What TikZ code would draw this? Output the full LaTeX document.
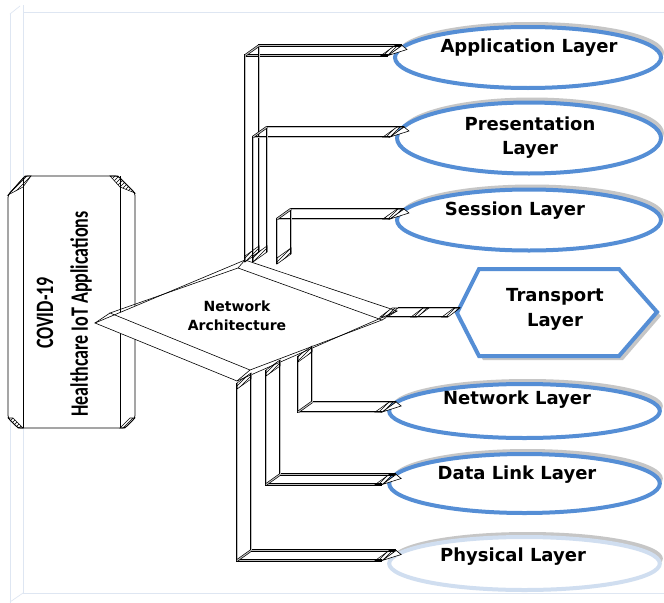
\documentclass[tikz,border=0pt]{standalone}
\usepackage{fontspec}
\setmainfont{DejaVu Sans}
\newfontfamily\carlito{Carlito}
\usetikzlibrary{shapes.geometric,calc,patterns,shadows}
\definecolor{lblue}{RGB}{85,142,213}
\definecolor{pblue}{RGB}{208,222,240}
\definecolor{framec}{RGB}{222,230,242}
\newcommand{\pipeto}[2]{%
  \draw[pipe] (#1) |- (#2);
  \draw[pipe] ($(#1)+(14,-10)$) |- ($(#2)+(14,-10)$);
  \draw[pipe] (#1 |- #2) -- ++(14,-10);
  \filldraw[capfill] ($(#2)+(-7,0)$) -- (#2) -- ++(14,-10) -- ++(-7,0) -- cycle;
  \draw[thinl, fill=white] (#2) -- ++(14,-10) -- ++(5,4) -- cycle;
}
\newcommand{\capup}[1]{\filldraw[capfill] (#1) -- ++(14,-10) -- ++(0,-6) -- ++(-14,10) -- cycle;}
\newcommand{\capdown}[1]{\filldraw[capfill] (#1) -- ++(14,-10) -- ++(0,6) -- ++(-14,10) -- cycle;}
\newcommand{\capside}[1]{\filldraw[capfill] ($(#1)+(-6,0)$) -- (#1) -- ++(12,-9) -- ++(-6,0) -- cycle;}
\begin{document}
\begin{tikzpicture}[x=0.75pt,y=-0.75pt,
  pipe/.style={draw=black, line width=0.5pt, double=gray!50, double distance=0.75pt},
  thinl/.style={draw=black, line width=0.45pt},
  capfill/.style={draw=black, line width=0.4pt, pattern=north east lines},
  boxline/.style={draw=black, line width=0.55pt},
  frameline/.style={draw=framec, line width=0.5pt},
  layer/.style={ellipse, draw=lblue, line width=3pt, fill=white, inner sep=0pt},
  shadowE/.style={general shadow={fill=gray!45, shadow xshift=2.25pt, shadow yshift=3.75pt}},
  lbl/.style={font=\fontsize{13.5}{17.5}\selectfont\bfseries, align=center, inner sep=0pt},
  side/.style={font=\carlito\fontsize{18.75}{20}\selectfont\bfseries, rotate=90, inner sep=0pt}]
\useasboundingbox (0,0) rectangle (664,603);
\fill[white] (0,0) rectangle (664,603);

% faint page frame
\draw[frameline] (23,5) -- (23,593) -- (664,593);
\draw[frameline] (23,12) -- (664,12);
\draw[frameline] (10,14) -- (10,603);
\draw[frameline] (10,14) -- (20,6);
\draw[frameline] (10,602) -- (23,593);

% left 3D box
\draw[boxline, fill=white, rounded corners=2pt] (8,195) -- (25,176) -- (118,176) -- (135,193) -- (135,418) -- (125,428) -- (18,428) -- (8,418) -- cycle;
\draw[boxline] (23,178) -- (23,428);
\draw[boxline] (120,176) -- (120,428);
\filldraw[capfill] (8,195) -- (25,176) -- (31,176) -- (23,187) -- cycle;
\filldraw[capfill] (110,176) -- (118,176) -- (135,193) -- (120,187) -- cycle;
\filldraw[capfill] (8,418) -- (18,428) -- (23,428) -- (13,418) -- cycle;
\filldraw[capfill] (120,428) -- (125,428) -- (135,418) -- (130,418) -- cycle;
\node[side] (covid) at (45,313) {\scalebox{0.72}[1]{COVID-19}};
\node[side] (health) at (81,314) {\scalebox{0.72}[1]{Healthcare IoT Applications}};

% diamond (3D)
\coordinate (dL) at (95,323);
\coordinate (dT) at (245,260);
\coordinate (dR) at (397,311);
\coordinate (dB) at (237,381);
\coordinate (iL) at (110,313);
\coordinate (iT) at (238,268);
\coordinate (iR) at (382,320);
\coordinate (iB) at (250,370);
\draw[thinl, fill=white] (dL) -- (dT) -- (dR) -- (dB) -- cycle;
\draw[thinl] (iL) -- (iT) -- (iR) -- (iB) -- cycle;
\draw[thinl] (dL) -- (iL) (dT) -- (iT) (dR) -- (iR) (dB) -- (iB);
\node[font=\fontsize{10.5}{14.25}\selectfont\bfseries, align=center] (arch) at (237,316) {Network\\Architecture};

% layer ellipses
\node[layer, shadowE, minimum width=199.5pt, minimum height=45.75pt] (app) at (528,57.5) {};
\node[layer, shadowE, minimum width=198pt, minimum height=53.25pt] (pres) at (529,138) {};
\node[layer, shadowE, minimum width=198pt, minimum height=45.75pt] (sess) at (529,220) {};
\node[layer, shadowE, minimum width=203pt, minimum height=40.5pt] (net) at (524.5,411) {};
\node[layer, shadowE, minimum width=203pt, minimum height=44.25pt] (dl) at (524.5,483.5) {};
\node[layer, shadowE, draw=pblue, minimum width=203pt, minimum height=39.75pt] (phys) at (524.5,563.5) {};

% transport hexagon
\coordinate (transW) at (457,313);
\path[draw=lblue, line width=3pt, fill=white, general shadow={fill=gray!45, shadow xshift=3pt, shadow yshift=-3pt}]
  (transW) -- (479,269) -- (619,269) -- (657,312) -- (619,356) -- (479,356) -- cycle;

% connector coordinates
\coordinate (sA) at (245,262);
\coordinate (sP) at (253,262);
\coordinate (sS) at (277,264);
\coordinate (sN) at (298,356);
\coordinate (sD) at (266,370);
\coordinate (sY) at (237,383);
\coordinate (eA) at ($(app.west)+(-5,-2)$);
\coordinate (eP) at ($(pres.west)+(-5,-1)$);
\coordinate (eS) at ($(sess.west)+(-5,-1)$);
\coordinate (eN) at ($(net.west)+(-5,1)$);
\coordinate (eD) at ($(dl.west)+(-5,1)$);
\coordinate (eY) at ($(phys.west)+(-5,-3)$);

\pipeto{sA}{eA}
\pipeto{sP}{eP}
\pipeto{sS}{eS}
\capup{sA}\capup{sP}\capup{sS}
\pipeto{sN}{eN}
\pipeto{sD}{eD}
\pipeto{sY}{eY}
\capdown{sN}\capdown{sD}\capdown{sY}

% transport connector
\coordinate (tp1) at (386,317);
\coordinate (tp3) at ($(transW)+(-9,4)$);
\coordinate (tp2) at ($(tp1)!0.5!(tp3)$);
\draw[pipe] (tp1) -- (tp3);
\draw[pipe] ($(tp1)+(12,-9)$) -- ($(tp3)+(12,-9)$);
\capside{tp1}\capside{tp2}\capside{tp3}

% labels
\node[lbl] (appT) at (529,48) {Application Layer};
\node[lbl] (presT) at (530,137.5) {Presentation\\Layer};
\node[lbl] (sessT) at (515,211) {Session Layer};
\node[lbl, font=\fontsize{13.5}{18.75}\selectfont\bfseries] (trans) at (555,309.5) {Transport\\Layer};
\node[lbl] (netT) at (517,400) {Network Layer};
\node[lbl] (dlT) at (517,475) {Data Link Layer};
\node[lbl] (physT) at (513,557) {Physical Layer};
\end{tikzpicture}
\end{document}
